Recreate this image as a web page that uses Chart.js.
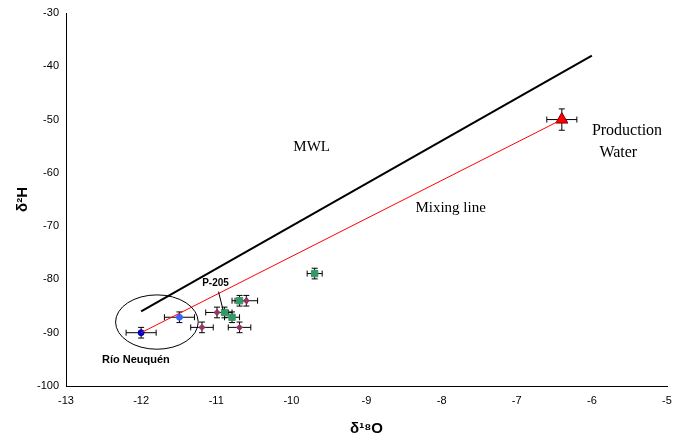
<!DOCTYPE html>
<html>
<head>
<meta charset="utf-8">
<script src="https://cdn.jsdelivr.net/npm/chart.js@4"></script>
<style>
  html, body { margin: 0; padding: 0; background: #fff; }
  #wrap { width: 676px; height: 442px; }
</style>
</head>
<body>
<div id="wrap"><canvas id="myChart" width="676" height="442"></canvas></div>
<script>
// * Lines
const mwlX = [-12, -6];
const mwlY = [-86, -38];
const mixX = [-12, -6.4];
const mixY = [-90, -50];

// * Samples (x = d18O, y = d2H) with error bars
const rioX = [-12];
const rioY = [-90];
const rioXErr = [0.2];
const rioYErr = [1];

const blueX = [-11.49];
const blueY = [-87.1];
const blueXErr = [0.2];
const blueYErr = [1];

const pinkX = [-11.19, -10.99, -10.69, -10.6];
const pinkY = [-89, -86.2, -89, -84];
const pinkXErr = [0.15, 0.15, 0.15, 0.15];
const pinkYErr = [1, 1, 1, 1];

const greenX = [-10.89, -10.79, -10.69, -9.69];
const greenY = [-86.2, -87.1, -84, -78.9];
const greenXErr = [0.1, 0.1, 0.1, 0.1];
const greenYErr = [1, 1, 1, 1];

const pwX = [-6.4];
const pwY = [-50];
const pwXErr = [0.2];
const pwYErr = [2];

const xTicks = [-13, -12, -11, -10, -9, -8, -7, -6, -5];
const yTicks = [-100, -90, -80, -70, -60, -50, -40, -30];

const pts = (xs, ys, xe, ye) =>
    xs.map((x, i) => ({ x: x, y: ys[i], xe: xe ? xe[i] : 0, ye: ye ? ye[i] : 0 }));

// * Error bars for every dataset that carries xe / ye
const errorBars = {
    id: "errorBars",
    beforeDatasetsDraw(chart) {
        const { ctx, scales: { x, y } } = chart;
        ctx.save();
        ctx.strokeStyle = "#000";
        ctx.lineWidth = 1;
        chart.data.datasets.forEach((ds) => {
            ds.data.forEach((p) => {
                if (!p.xe && !p.ye) return;
                const px = x.getPixelForValue(p.x);
                const py = y.getPixelForValue(p.y);
                const x1 = x.getPixelForValue(p.x - p.xe);
                const x2 = x.getPixelForValue(p.x + p.xe);
                const y1 = y.getPixelForValue(p.y - p.ye);
                const y2 = y.getPixelForValue(p.y + p.ye);
                ctx.beginPath();
                ctx.moveTo(x1, py); ctx.lineTo(x2, py);
                ctx.moveTo(x1, py - 3); ctx.lineTo(x1, py + 3);
                ctx.moveTo(x2, py - 3); ctx.lineTo(x2, py + 3);
                ctx.moveTo(px, y1); ctx.lineTo(px, y2);
                ctx.moveTo(px - 3, y1); ctx.lineTo(px + 3, y1);
                ctx.moveTo(px - 3, y2); ctx.lineTo(px + 3, y2);
                ctx.stroke();
            });
        });
        ctx.restore();
    },
};

// * Text, ellipse and leader line
const notes = {
    id: "notes",
    afterDatasetsDraw(chart) {
        const { ctx, scales: { x, y } } = chart;
        ctx.save();
        // ellipse round Rio Neuquen
        ctx.strokeStyle = "#000";
        ctx.lineWidth = 1;
        const cx = x.getPixelForValue(-11.79);
        const cy = y.getPixelForValue(-88);
        const rx = x.getPixelForValue(-11.79 + 0.55) - cx;
        const ry = cy - y.getPixelForValue(-88 + 5.1);
        ctx.beginPath();
        ctx.ellipse(cx, cy, rx, ry, 0, 0, Math.PI * 2);
        ctx.stroke();
        // leader line P-205
        ctx.beginPath();
        ctx.moveTo(x.getPixelForValue(-10.97), y.getPixelForValue(-82.3));
        ctx.lineTo(x.getPixelForValue(-10.91), y.getPixelForValue(-85.7));
        ctx.stroke();

        ctx.fillStyle = "#000";
        ctx.textAlign = "center";
        ctx.textBaseline = "middle";
        ctx.font = "15px 'Liberation Serif', 'Times New Roman', serif";
        ctx.fillText("MWL", x.getPixelForValue(-9.73), y.getPixelForValue(-55.2));
        ctx.fillText("Mixing line", x.getPixelForValue(-7.88), y.getPixelForValue(-66.6));
        ctx.font = "16px 'Liberation Serif', 'Times New Roman', serif";
        ctx.textAlign = "left";
        ctx.fillText("Production", x.getPixelForValue(-6.0), y.getPixelForValue(-52.2));
        ctx.fillText("Water", x.getPixelForValue(-5.9), y.getPixelForValue(-56.3));
        ctx.font = "bold 11px 'Liberation Sans', Arial, sans-serif";
        ctx.textAlign = "center";
        ctx.fillText("Río Neuquén", x.getPixelForValue(-12.07), y.getPixelForValue(-95.1));
        ctx.font = "bold 10px 'Liberation Sans', Arial, sans-serif";
        ctx.fillText("P-205", x.getPixelForValue(-11.01), y.getPixelForValue(-80.8));
        ctx.restore();
    },
};

const config = {
    type: "scatter",
    data: {
        datasets: [
            {
                data: pts(mwlX, mwlY),
                showLine: true,
                borderColor: "#000",
                borderWidth: 2,
                pointRadius: 0,
            },
            {
                data: pts(mixX, mixY),
                showLine: true,
                borderColor: "#ff0000",
                borderWidth: 1,
                pointRadius: 0,
            },
            {
                data: pts(pinkX, pinkY, pinkXErr, pinkYErr),
                backgroundColor: "#993366",
                borderColor: "#993366",
                pointStyle: "rectRot",
                pointRadius: 3,
            },
            {
                data: pts(greenX, greenY, greenXErr, greenYErr),
                backgroundColor: "#339966",
                borderColor: "#339966",
                pointStyle: "rect",
                pointRadius: 4.5,
            },
            {
                data: pts(blueX, blueY, blueXErr, blueYErr),
                backgroundColor: "#3366ff",
                borderColor: "#3366ff",
                pointRadius: 3,
            },
            {
                data: pts(rioX, rioY, rioXErr, rioYErr),
                backgroundColor: "#0000cc",
                borderColor: "#0000cc",
                pointRadius: 3,
            },
            {
                data: pts(pwX, pwY, pwXErr, pwYErr),
                backgroundColor: "#ff0000",
                borderColor: "#800000",
                borderWidth: 1,
                pointStyle: "triangle",
                pointRadius: 7,
            },
        ],
    },
    options: {
        responsive: false,
        animation: false,
        layout: { padding: { top: 13, right: 9, left: 0, bottom: 0 } },
        plugins: { legend: false, tooltip: { enabled: false } },
        scales: {
            x: {
                type: "linear",
                min: -13,
                max: -5,
                afterBuildTicks: (s) => { s.ticks = xTicks.map((v) => ({ value: v })); },
                afterFit: (s) => { s.height = 56; },
                grid: { display: false, drawTicks: true, tickLength: 4, tickColor: "#000" },
                border: { color: "#000", width: 1 },
                ticks: {
                    color: "#000",
                    padding: 4,
                    maxRotation: 0,
                    font: { family: "'Liberation Sans', Arial, sans-serif", size: 11 },
                },
                title: {
                    display: true,
                    text: "δ¹⁸O",
                    color: "#000",
                    padding: { top: 8 },
                    font: { family: "'Liberation Sans', Arial, sans-serif", size: 15, weight: "bold" },
                },
            },
            y: {
                type: "linear",
                min: -100,
                max: -30,
                afterBuildTicks: (s) => { s.ticks = yTicks.map((v) => ({ value: v })); },
                afterFit: (s) => { s.width = 66; },
                grid: { display: false, drawTicks: true, tickLength: 4, tickColor: "#000" },
                border: { color: "#000", width: 1 },
                ticks: {
                    color: "#000",
                    padding: 3,
                    font: { family: "'Liberation Sans', Arial, sans-serif", size: 11 },
                },
                title: {
                    display: true,
                    text: "δ²H",
                    color: "#000",
                    padding: { top: 14, bottom: 4 },
                    font: { family: "'Liberation Sans', Arial, sans-serif", size: 15, weight: "bold" },
                },
            },
        },
    },
    plugins: [errorBars, notes],
};

const ctx = document.getElementById("myChart").getContext("2d");
const chart = new Chart(ctx, config);
</script>
</body>
</html>
